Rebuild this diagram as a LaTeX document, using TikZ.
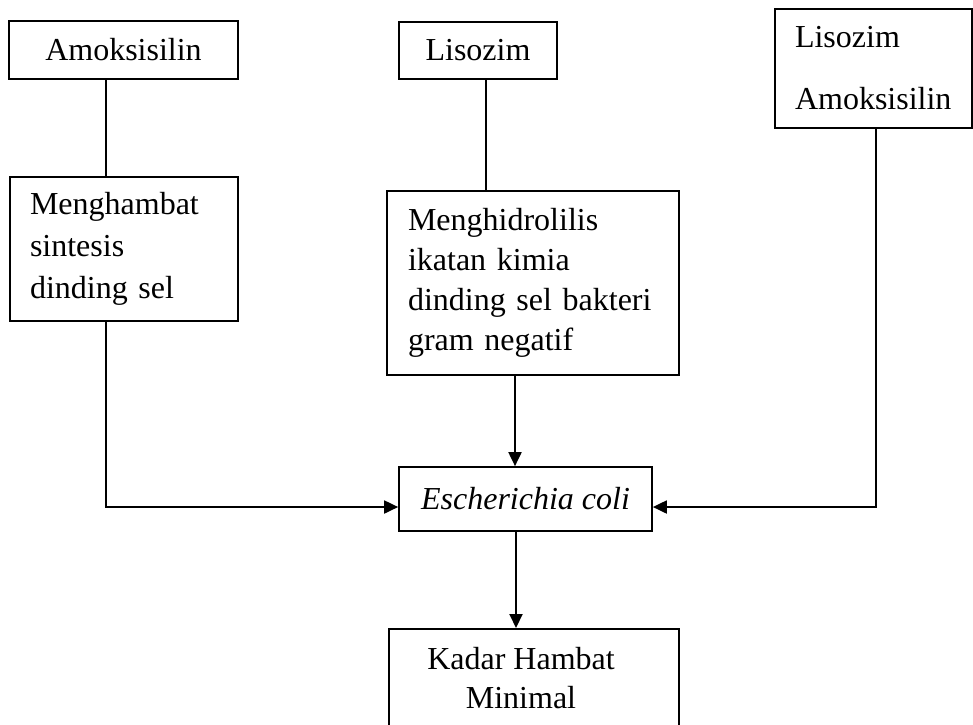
\documentclass[tikz,border=0pt]{standalone}
\usepackage{fontspec}
\setmainfont{Liberation Serif}
\usetikzlibrary{arrows.meta}
\begin{document}
\begin{tikzpicture}[x=1pt,y=-1pt,line width=1.7pt,
  box/.style={draw,rectangle,inner sep=0pt,font=\fontsize{32}{42}\selectfont},
  lbox/.style={box,align=left,inner ysep=0pt},
  txt/.style={inner sep=0pt,font=\fontsize{32}{39}\selectfont,align=center},
  conn/.style={line width=1.9pt},
  arr/.style={conn,-{Triangle[length=14pt,width=13pt]}}]
\useasboundingbox (0,0) rectangle (973,724);
\clip (0,0) rectangle (973,724);
% top row
\node[box,minimum width=229pt,minimum height=58pt] (amox) at (123.5,50) {Amoksisilin};
\node[box,minimum width=158pt,minimum height=57pt] (lis) at (478,50.5) {Lisozim};
\node[lbox,text width=157pt,inner xsep=20pt,minimum height=119pt,font=\fontsize{32}{62}\selectfont] (combo) at (873.5,68.5) {Lisozim\\Amoksisilin};
% middle row
\node[lbox,text width=188pt,inner xsep=20pt,minimum height=144pt] (hambat) at (124,249) {Menghambat\\sintesis\\dinding sel};
\node[lbox,text width=250pt,inner xsep=21pt,minimum height=184pt,font=\fontsize{32}{40}\selectfont] (lisis) at (533,283) {Menghidrolilis\\ikatan kimia\\dinding sel bakteri\\gram negatif};
% E. coli
\node[box,minimum width=253pt,minimum height=64pt] (ecoli) at (525.5,499) {\itshape Escherichia coli};
% result
\node[draw,rectangle,inner sep=0pt,minimum width=290pt,minimum height=140pt,anchor=north] (kadar) at (534,628) {};
\node[txt,anchor=north] (kadartxt) at (521,646) {Kadar Hambat\\Minimal};
% connectors
\draw[conn] ([xshift=-17.5pt]amox.south) -- ([xshift=-17.5pt]amox.south |- hambat.north);
\draw[conn] ([xshift=8pt]lis.south) -- ([xshift=8pt]lis.south |- lisis.north);
\draw[arr] ([xshift=-18pt]lisis.south) -- ([xshift=-18pt]lisis.south |- ecoli.north);
\draw[arr] ([xshift=-9.5pt]ecoli.south) -- ([xshift=-9.5pt]ecoli.south |- kadar.north);
\draw[arr] ([xshift=-18pt]hambat.south) |- ([yshift=-8pt]ecoli.west);
\draw[arr] ([xshift=2.5pt]combo.south) |- ([yshift=-8pt]ecoli.east);
\end{tikzpicture}
\end{document}
